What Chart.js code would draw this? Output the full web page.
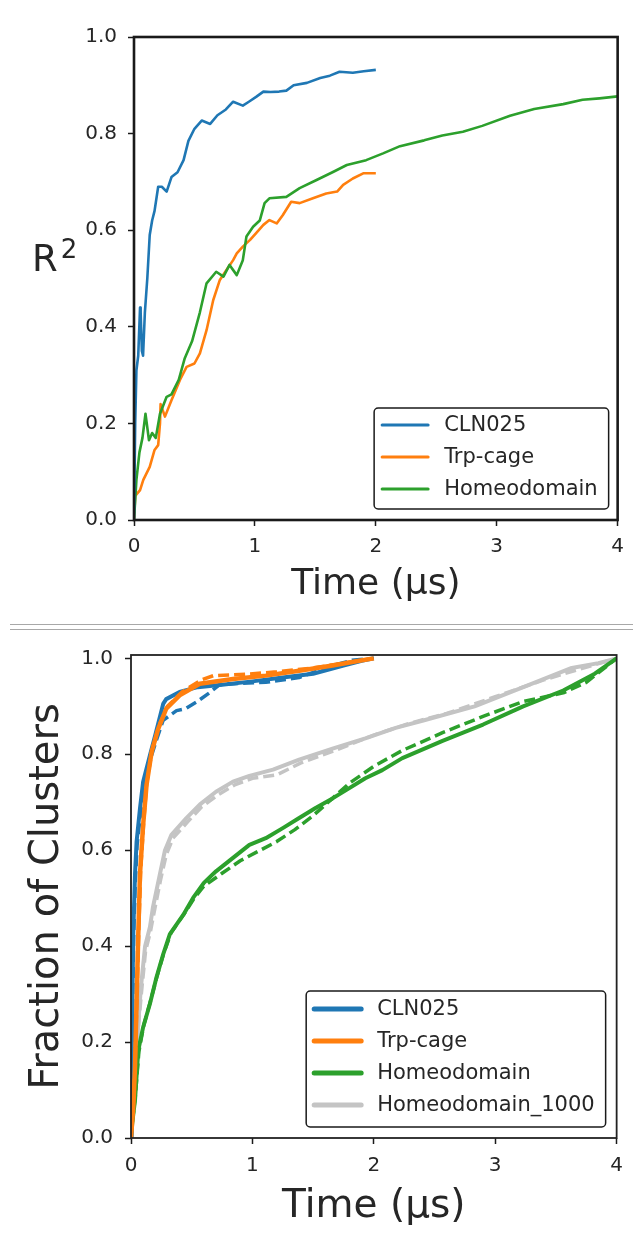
<!DOCTYPE html>
<html><head><meta charset="utf-8">
<script src="https://cdn.jsdelivr.net/npm/chart.js@4.4.1/dist/chart.umd.min.js"></script>
<style>
html,body{margin:0;padding:0;background:#fff;width:633px;height:1237px;overflow:hidden;}
#w1{position:absolute;left:0;top:0;width:633px;height:622px;}
#w2{position:absolute;left:0;top:631px;width:633px;height:606px;}
.sep{position:absolute;left:10px;width:623px;height:1px;background:#a8a8a8;}
</style></head><body>
<div id="w1"><canvas id="c1" width="633" height="622"></canvas></div>
<div class="sep" style="top:624px"></div>
<div class="sep" style="top:629px"></div>
<div id="w2"><canvas id="c2" width="633" height="606"></canvas></div>
<script>
// ---------- Top panel (R^2 vs time) ----------
const xTicksTop = [0, 1, 2, 3, 4];
const topClnT = [0,0.01,0.02,0.035,0.05,0.055,0.065,0.075,0.09,0.11,0.13,0.15,0.17,0.2,0.23,0.27,0.31,0.36,0.41,0.45,0.5,0.56,0.63,0.69,0.76,0.82,0.9,0.95,1.01,1.07,1.13,1.2,1.26,1.32,1.43,1.54,1.62,1.7,1.81,1.9,2.0];
const topClnV = [0,0.2,0.31,0.34,0.44,0.43,0.35,0.34,0.43,0.5,0.59,0.62,0.64,0.69,0.69,0.68,0.71,0.72,0.745,0.785,0.81,0.827,0.82,0.838,0.85,0.866,0.858,0.866,0.876,0.887,0.886,0.887,0.889,0.90,0.905,0.915,0.92,0.928,0.926,0.929,0.932];
const topTrpT = [0,0.01,0.05,0.077,0.13,0.17,0.2,0.215,0.22,0.256,0.31,0.38,0.435,0.5,0.545,0.6,0.655,0.71,0.766,0.82,0.85,0.9,0.96,1.01,1.07,1.12,1.18,1.23,1.3,1.37,1.48,1.59,1.68,1.73,1.81,1.9,2.0];
const topTrpV = [0,0.05,0.062,0.083,0.11,0.145,0.155,0.2,0.24,0.214,0.248,0.29,0.317,0.324,0.345,0.393,0.455,0.497,0.518,0.538,0.552,0.566,0.58,0.594,0.611,0.621,0.614,0.631,0.659,0.656,0.666,0.676,0.68,0.694,0.707,0.718,0.718];
const topHomT = [0,0.02,0.045,0.07,0.095,0.124,0.15,0.18,0.215,0.27,0.31,0.37,0.42,0.48,0.545,0.6,0.68,0.74,0.79,0.85,0.9,0.93,0.985,1.04,1.08,1.12,1.26,1.37,1.51,1.65,1.76,1.92,2.06,2.2,2.4,2.55,2.72,2.88,3.11,3.31,3.55,3.71,3.85,4.0];
const topHomV = [0,0.083,0.14,0.17,0.22,0.165,0.18,0.17,0.22,0.255,0.26,0.29,0.335,0.37,0.43,0.49,0.514,0.504,0.528,0.507,0.538,0.587,0.607,0.62,0.656,0.666,0.669,0.687,0.704,0.721,0.735,0.745,0.759,0.774,0.786,0.796,0.804,0.816,0.837,0.851,0.861,0.87,0.873,0.877];

// ---------- Bottom panel (Fraction of clusters) ----------
const botClnT = [0,0.005,0.012,0.019,0.033,0.046,0.074,0.10,0.156,0.2,0.265,0.29,0.4,0.55,0.75,1.0,1.25,1.5,1.75,1.9,2.0];
const botClnV = [0,0.15,0.3,0.43,0.55,0.618,0.687,0.743,0.798,0.84,0.905,0.915,0.93,0.94,0.945,0.952,0.96,0.968,0.985,0.995,1.0];
const botClnDT = [0,0.006,0.014,0.022,0.035,0.05,0.08,0.11,0.16,0.21,0.265,0.375,0.45,0.54,0.65,0.73,0.9,1.11,1.385,1.66,1.82,2.0];
const botClnDV = [0,0.14,0.29,0.42,0.53,0.61,0.68,0.74,0.79,0.83,0.871,0.891,0.895,0.909,0.929,0.945,0.948,0.95,0.96,0.985,0.996,1.0];
const botTrpT = [0,0.02,0.033,0.046,0.06,0.074,0.10,0.128,0.17,0.224,0.29,0.4,0.566,0.84,1.11,1.385,1.66,1.88,2.0];
const botTrpV = [0,0.07,0.148,0.286,0.425,0.55,0.653,0.736,0.805,0.853,0.895,0.923,0.947,0.957,0.964,0.974,0.985,0.995,1.0];
const botTrpDT = [0,0.02,0.035,0.05,0.065,0.08,0.105,0.13,0.175,0.23,0.3,0.42,0.58,0.68,0.95,1.2,1.5,1.75,2.0];
const botTrpDV = [0,0.08,0.16,0.3,0.44,0.56,0.66,0.74,0.81,0.86,0.9,0.93,0.955,0.964,0.967,0.972,0.98,0.99,1.0];
const botHomT = [0,0.01,0.033,0.06,0.1,0.156,0.21,0.265,0.32,0.43,0.51,0.6,0.7,0.84,0.975,1.11,1.25,1.385,1.52,1.66,1.795,1.93,2.07,2.235,2.566,2.9,3.23,3.56,3.82,4.0];
const botHomV = [0,0.03,0.079,0.183,0.231,0.28,0.335,0.383,0.425,0.465,0.5,0.532,0.556,0.584,0.611,0.625,0.646,0.667,0.688,0.708,0.729,0.75,0.767,0.792,0.828,0.862,0.9,0.933,0.968,1.0];
const botHomDT = [0,0.01,0.035,0.065,0.105,0.16,0.215,0.27,0.33,0.44,0.52,0.6,0.75,0.9,1.05,1.2,1.35,1.5,1.65,1.8,2.0,2.235,2.566,2.9,3.23,3.56,3.75,4.0];
const botHomDV = [0,0.03,0.085,0.18,0.235,0.285,0.338,0.385,0.428,0.468,0.5,0.525,0.552,0.578,0.598,0.618,0.643,0.672,0.706,0.74,0.775,0.808,0.845,0.879,0.91,0.928,0.95,1.0];
const botH1kT = [0,0.02,0.05,0.08,0.116,0.156,0.18,0.238,0.28,0.333,0.456,0.566,0.7,0.84,0.975,1.17,1.385,1.66,1.93,2.18,2.4,2.83,3.33,3.63,3.85,4.0];
const botH1kV = [0,0.1,0.2,0.31,0.4,0.44,0.48,0.55,0.6,0.632,0.667,0.695,0.722,0.743,0.755,0.768,0.789,0.812,0.833,0.855,0.87,0.9,0.95,0.98,0.99,1.0];
const botH1kDT = [0,0.02,0.05,0.085,0.12,0.16,0.19,0.245,0.29,0.345,0.47,0.58,0.72,0.86,1.0,1.2,1.4,1.7,2.0,2.3,2.6,3.0,3.4,3.7,4.0];
const botH1kDV = [0,0.1,0.2,0.3,0.39,0.43,0.47,0.54,0.59,0.625,0.66,0.69,0.716,0.737,0.75,0.757,0.782,0.81,0.84,0.865,0.885,0.92,0.955,0.978,1.0];

const yTickLabels = ['0.0','0.2','0.4','0.6','0.8','1.0'];

const BLUE = '#1f77b4', ORANGE = '#ff7f0e', GREEN = '#2ca02c', GRAY = '#c4c4c4';
const TXT = '#262626';
Chart.defaults.font.family = "'DejaVu Sans', sans-serif";

function pts(t, v) { return t.map((x, i) => ({ x: x, y: v[i] })); }

const framePlugin = {
  id: 'frame',
  afterDatasetsDraw(chart, args, opts) {
    const ca = chart.chartArea, ctx = chart.ctx;
    ctx.save();
    ctx.strokeStyle = opts.color; ctx.lineWidth = opts.width;
    ctx.strokeRect(ca.left, ca.top, ca.right - ca.left, ca.bottom - ca.top);
    ctx.restore();
  }
};

const legendPlugin = {
  id: 'boxLegend',
  afterDraw(chart, args, o) {
    const ctx = chart.ctx, ca = chart.chartArea;
    const items = chart.data.datasets.filter(d => d.legendIndex !== undefined)
      .sort((a, b) => a.legendIndex - b.legendIndex);
    ctx.save();
    ctx.font = o.fontSize + "px 'DejaVu Sans'";
    const tw = Math.max(...items.map(d => ctx.measureText(d.label).width));
    const w = o.padL + o.lineLen + o.gap + tw + o.padR;
    const h = items.length * o.row + o.extra;
    const x = ca.right - o.marginR - w, y = ca.bottom - o.marginB - h;
    ctx.beginPath();
    ctx.roundRect(x, y, w, h, 4);
    ctx.fillStyle = 'rgba(255,255,255,0.85)';
    ctx.fill();
    ctx.lineWidth = o.border; ctx.strokeStyle = '#1a1a1a';
    ctx.stroke();
    items.forEach((d, i) => {
      const cy = y + o.first + i * o.row;
      ctx.beginPath();
      ctx.strokeStyle = d.borderColor; ctx.lineWidth = o.lineW; ctx.lineCap = 'round';
      ctx.moveTo(x + o.padL, cy); ctx.lineTo(x + o.padL + o.lineLen, cy); ctx.stroke();
      ctx.fillStyle = TXT; ctx.textBaseline = 'middle'; ctx.textAlign = 'left';
      ctx.fillText(d.label, x + o.padL + o.lineLen + o.gap, cy + 1);
    });
    ctx.restore();
  }
};

const r2Plugin = {
  id: 'r2Label',
  afterDraw(chart) {
    const ctx = chart.ctx;
    ctx.save();
    ctx.fillStyle = TXT; ctx.textBaseline = 'alphabetic'; ctx.textAlign = 'left';
    ctx.font = "37px 'DejaVu Sans'";
    ctx.fillText('R', 32, 271);
    const rw = ctx.measureText('R').width;
    ctx.font = "26px 'DejaVu Sans'";
    ctx.fillText('2', 32 + rw + 3, 258);
    ctx.restore();
  }
};

function axisCommon(extra) {
  return Object.assign({
    type: 'linear',
    grid: { display: true, drawOnChartArea: false, drawTicks: true, tickLength: 6, tickColor: '#1a1a1a', tickWidth: 1.5 },
    border: { display: false },
  }, extra);
}

// ---------------- chart 1 ----------------
new Chart(document.getElementById('c1'), {
  type: 'line',
  data: { datasets: [
    { label: 'CLN025', legendIndex: 0, data: pts(topClnT, topClnV), borderColor: BLUE, borderWidth: 2.6, order: 1 },
    { label: 'Trp-cage', legendIndex: 1, data: pts(topTrpT, topTrpV), borderColor: ORANGE, borderWidth: 2.6, order: 3 },
    { label: 'Homeodomain', legendIndex: 2, data: pts(topHomT, topHomV), borderColor: GREEN, borderWidth: 2.6, order: 2 }
  ]},
  options: {
    responsive: false, animation: false,
    elements: { point: { radius: 0 }, line: { tension: 0, fill: false, borderJoinStyle: 'round' } },
    layout: { padding: { left: 0, right: 15, top: 37, bottom: 0 } },
    scales: {
      x: axisCommon({
        min: 0, max: 4,
        afterBuildTicks: s => { s.ticks = xTicksTop.map(v => ({ value: v })); },
        afterFit: s => { s.height = 102; },
        ticks: { color: TXT, font: { size: 20 }, padding: 9, maxRotation: 0, callback: v => String(v) },
        title: { display: true, text: 'Time (μs)', color: TXT, font: { size: 36 }, padding: { top: 0, bottom: 16 } }
      }),
      y: axisCommon({
        min: 0, max: 1,
        afterBuildTicks: s => { s.ticks = yTickLabels.map(t => ({ value: parseFloat(t) })); },
        afterFit: s => { s.width = 134; },
        ticks: { color: TXT, font: { size: 20 }, padding: 11, callback: (v, i) => yTickLabels[i] }
      })
    },
    plugins: {
      legend: { display: false }, tooltip: { enabled: false },
      frame: { color: '#1a1a1a', width: 2.6 },
      boxLegend: { fontSize: 21, padL: 8, lineLen: 46, gap: 16, padR: 11, row: 32, extra: 5, first: 17, marginR: 9, marginB: 11, lineW: 3, border: 1.5 }
    }
  },
  plugins: [framePlugin, legendPlugin, r2Plugin]
});

// ---------------- chart 2 ----------------
const DASH = [11, 5];
new Chart(document.getElementById('c2'), {
  type: 'line',
  data: { datasets: [
    { label: 'CLN025', legendIndex: 0, data: pts(botClnT, botClnV), borderColor: BLUE, borderWidth: 4, order: 3 },
    { label: 'CLN025 (dashed)', data: pts(botClnDT, botClnDV), borderColor: BLUE, borderWidth: 3.5, borderDash: DASH, order: 4 },
    { label: 'Trp-cage', legendIndex: 1, data: pts(botTrpT, botTrpV), borderColor: ORANGE, borderWidth: 4.5, order: 1 },
    { label: 'Trp-cage (dashed)', data: pts(botTrpDT, botTrpDV), borderColor: ORANGE, borderWidth: 3.5, borderDash: DASH, order: 2 },
    { label: 'Homeodomain', legendIndex: 2, data: pts(botHomT, botHomV), borderColor: GREEN, borderWidth: 4, order: 5 },
    { label: 'Homeodomain (dashed)', data: pts(botHomDT, botHomDV), borderColor: GREEN, borderWidth: 3.5, borderDash: DASH, order: 6 },
    { label: 'Homeodomain_1000', legendIndex: 3, data: pts(botH1kT, botH1kV), borderColor: GRAY, borderWidth: 4, order: 7 },
    { label: 'Homeodomain_1000 (dashed)', data: pts(botH1kDT, botH1kDV), borderColor: GRAY, borderWidth: 3.5, borderDash: DASH, order: 8 }
  ]},
  options: {
    responsive: false, animation: false,
    elements: { point: { radius: 0 }, line: { tension: 0, fill: false, borderJoinStyle: 'round' } },
    layout: { padding: { left: 0, right: 14, top: 21.5, bottom: 0 } },
    scales: {
      x: axisCommon({
        min: 0, max: 4,
        afterBuildTicks: s => { s.ticks = xTicksTop.map(v => ({ value: v })); },
        afterFit: s => { s.height = 99; },
        ticks: { color: TXT, font: { size: 20 }, padding: 10, maxRotation: 0, callback: v => String(v) },
        title: { display: true, text: 'Time (μs)', color: TXT, font: { size: 39 }, padding: { top: 0, bottom: 7 } }
      }),
      y: axisCommon({
        min: 0, max: 1.007,
        afterBuildTicks: s => { s.ticks = yTickLabels.map(t => ({ value: parseFloat(t) })); },
        afterFit: s => { s.width = 131; },
        ticks: { color: TXT, font: { size: 20 }, padding: 12, callback: (v, i) => yTickLabels[i] },
        title: { display: true, text: 'Fraction of Clusters', color: TXT, font: { size: 40 }, padding: { top: 24, bottom: 0 } }
      })
    },
    plugins: {
      legend: { display: false }, tooltip: { enabled: false },
      frame: { color: '#222', width: 1.8 },
      boxLegend: { fontSize: 21, padL: 8, lineLen: 47, gap: 16, padR: 11, row: 32, extra: 8, first: 18, marginR: 11, marginB: 11, lineW: 5, border: 1.5 }
    }
  },
  plugins: [framePlugin, legendPlugin]
});
</script>
</body></html>
